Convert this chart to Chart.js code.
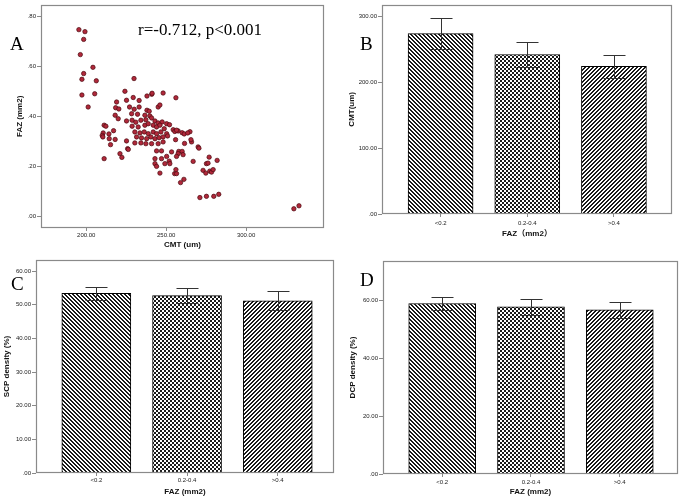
<!DOCTYPE html>
<html><head><meta charset="utf-8">
<script src="https://cdn.jsdelivr.net/npm/chart.js@4.4.1/dist/chart.umd.min.js"></script>
<style>
html,body{margin:0;padding:0;background:#fff;}
#wrap{position:relative;width:685px;height:501px;overflow:hidden;background:#fff;}
canvas{position:absolute;}
</style></head><body>
<div id="wrap">
<canvas id="cA" width="330" height="250" style="left:0;top:0"></canvas>
<canvas id="cB" width="345" height="250" style="left:340px;top:0"></canvas>
<canvas id="cC" width="340" height="251" style="left:0;top:250px"></canvas>
<canvas id="cD" width="345" height="251" style="left:340px;top:250px"></canvas>
</div>
<script>
// ---------- data ----------
const cmtValues = [
195.4,199.2,198.4,196.3,204.2,198.4,197.3,206.3,197.3,205.3,201.2,
229.9,224.2,219.0,225.2,229.4,233.1,238.0,241.0,241.2,248.1,256.1,
218.4,220.4,218.1,220.0,225.2,227.1,230.0,233.1,228.4,232.1,238.0,239.4,245.0,246.1,236.7,239.8,
211.2,212.3,210.6,210.0,210.4,214.2,214.4,217.1,218.1,215.2,225.2,225.9,221.1,222.3,211.2,
228.7,231.0,234.2,237.3,240.9,243.0,245.0,247.5,250.3,252.1,
228.7,232.5,236.7,238.8,241.9,244.0,246.1,248.8,
230.4,233.6,236.3,238.8,241.9,244.0,246.7,250.3,254.4,255.4,257.5,260.0,
231.5,234.6,237.8,240.4,243.0,245.6,248.1,250.9,
230.4,234.2,237.3,240.9,245.0,248.1,255.9,
226.3,244.0,247.1,253.4,257.9,260.0,
265.9,270.0,270.5,261.5,265.5,264.9,261.3,256.5,263.5,
257.5,256.5,260.6,243.0,247.1,250.3,243.0,244.0,249.2,251.9,252.3,246.1,255.3,256.5,256.1,261.1,259.0,
266.9,276.9,275.2,276.2,281.9,273.1,274.8,277.3,278.4,279.4,
271.1,275.2,279.8,282.9,329.9,333.1
];
const fazValues = [
0.747,0.739,0.708,0.647,0.596,0.571,0.548,0.542,0.485,0.490,0.437,
0.551,0.500,0.457,0.464,0.475,0.463,0.481,0.488,0.492,0.493,0.474,
0.434,0.429,0.404,0.390,0.381,0.437,0.428,0.437,0.410,0.408,0.424,0.420,0.437,0.445,0.404,0.401,
0.364,0.360,0.333,0.323,0.317,0.329,0.310,0.342,0.307,0.286,0.301,0.270,0.250,0.235,0.230,
0.384,0.376,0.384,0.386,0.393,0.381,0.373,0.377,0.370,0.366,
0.360,0.357,0.364,0.370,0.364,0.357,0.364,0.350,
0.337,0.333,0.337,0.330,0.337,0.330,0.337,0.330,0.346,0.339,0.341,0.334,
0.317,0.313,0.310,0.317,0.310,0.314,0.317,0.321,
0.293,0.293,0.290,0.290,0.290,0.297,0.306,
0.267,0.261,0.261,0.257,0.259,0.259,
0.297,0.277,0.272,0.291,0.306,0.338,0.329,0.344,0.333,
0.250,0.239,0.246,0.230,0.230,0.239,0.210,0.199,0.210,0.220,0.210,0.172,0.170,0.170,0.186,0.147,0.134,
0.219,0.236,0.210,0.212,0.223,0.183,0.172,0.180,0.176,0.186,
0.074,0.079,0.079,0.087,0.029,0.041
];
const scatterXTicks = [200, 250, 300];
const scatterYTicks = [0, 0.2, 0.4, 0.6, 0.8];

const fazGroups = ['<0.2', '0.2-0.4', '>0.4'];
const cmtMeans  = [274.0, 242.2, 224.2];
const cmtErrors = [23.5, 18.5, 17.8];
const scpMeans  = [53.4, 52.7, 51.2];
const scpErrors = [2.0, 2.3, 2.9];
const dcpMeans  = [59.0, 57.8, 56.8];
const dcpErrors = [2.3, 2.85, 2.7];
const cmtTicks = [0, 100, 200, 300];
const scpTicks = [0, 10, 20, 30, 40, 50, 60];
const dcpTicks = [0, 20, 40, 60];
const groupTicks = [0, 1, 2];

// ---------- helpers ----------
const SANS = '"Liberation Sans", Arial, "Noto Sans CJK SC", sans-serif';
const SERIF = '"Liberation Serif", "Times New Roman", serif';
function fmt(v){ const s = Number(v).toFixed(2); return s.startsWith('0.') ? s.slice(1) : s; }

function makePattern(kind){
  const c = document.createElement('canvas'); c.width = 4; c.height = 4;
  const g = c.getContext('2d');
  g.fillStyle = '#fff'; g.fillRect(0,0,4,4);
  g.fillStyle = '#1a1a1a';
  for (let i=0;i<4;i++){
    if (kind === 'back'){ g.fillRect(i,i,1,1); g.fillRect((i+1)%4,i,1,1); }
    else if (kind === 'fwd'){ g.fillRect(3-i,i,1,1); g.fillRect((4-i)%4,i,1,1); }
  }
  if (kind === 'check'){ g.fillRect(0,0,2,2); g.fillRect(2,2,2,2); }
  return g.createPattern(c,'repeat');
}

const framePlugin = {
  id:'frame',
  afterDraw(chart){
    const {ctx, chartArea:a} = chart;
    ctx.save(); ctx.strokeStyle = '#8a8a8a'; ctx.lineWidth = 1.2;
    ctx.strokeRect(Math.round(a.left)+0.5, Math.round(a.top)+0.5, Math.round(a.right-a.left)-1, Math.round(a.bottom-a.top)-1);
    ctx.restore();
  }
};
const errorPlugin = {
  id:'errbars',
  afterDatasetsDraw(chart, args, opts){
    if (!opts || !opts.means) return;
    const meta = chart.getDatasetMeta(0), ys = chart.scales.y, ctx = chart.ctx;
    ctx.save(); ctx.strokeStyle = '#333'; ctx.lineWidth = 1;
    meta.data.forEach((el,i)=>{
      const x = Math.round(el.x)+0.5;
      const yt = Math.round(ys.getPixelForValue(opts.means[i]+opts.errors[i]))+0.5;
      const yb = Math.round(ys.getPixelForValue(opts.means[i]-opts.errors[i]))+0.5;
      const w = opts.cap/2;
      ctx.beginPath();
      ctx.moveTo(x,yt); ctx.lineTo(x,yb);
      ctx.moveTo(x-w,yt); ctx.lineTo(x+w,yt);
      ctx.moveTo(x-w,yb); ctx.lineTo(x+w,yb);
      ctx.stroke();
    });
    ctx.restore();
  }
};
const textPlugin = {
  id:'panelText',
  afterDraw(chart, args, opts){
    if (!opts || !opts.items) return;
    const ctx = chart.ctx; ctx.save(); ctx.fillStyle = '#000'; ctx.textBaseline = 'alphabetic';
    opts.items.forEach(it=>{ ctx.font = it.font; ctx.fillText(it.text, it.x, it.y); });
    ctx.restore();
  }
};

function yAxis(min, max, ticks, title, width, titlePad){
  return {
    type:'linear', position:'left', min, max, offset:false,
    afterBuildTicks: s => { s.ticks = ticks.map(v=>({value:v})); },
    afterFit: s => { s.width = width; },
    ticks:{ font:{family:SANS,size:6}, color:'#222', padding:1, callback: v => fmt(v) },
    grid:{ drawOnChartArea:false, drawTicks:true, tickLength:4, color:'#8a8a8a', lineWidth:1 },
    border:{ display:false },
    title:{ display:true, text:title, font:{family:SANS,size:8,weight:'bold'}, color:'#111', padding:{top:titlePad,bottom:0} }
  };
}
function xAxis(min, max, ticks, labelFn, title, height, tickPad, titlePadBottom){
  return {
    type:'linear', position:'bottom', min, max, offset:false, bounds:'data',
    afterBuildTicks: s => { s.ticks = ticks.map(v=>({value:v})); },
    afterDataLimits: s => { s.min = min; s.max = max; },
    afterFit: s => { s.height = height; },
    ticks:{ font:{family:SANS,size:6}, color:'#222', padding:tickPad, maxRotation:0, callback: labelFn },
    grid:{ drawOnChartArea:false, drawTicks:true, tickLength:3, color:'#8a8a8a', lineWidth:1, offset:false },
    border:{ display:false },
    title:{ display:true, text:title, font:{family:SANS,size:8,weight:'bold'}, color:'#111', padding:{top:0,bottom:titlePadBottom} }
  };
}
const baseOpts = { responsive:false, animation:false, devicePixelRatio:1 };

// ---------- A : scatter ----------
new Chart(document.getElementById('cA'), {
  type:'scatter',
  data:{ datasets:[{ data: cmtValues.map((x,i)=>({x, y:fazValues[i]})),
    pointRadius:2.2, pointBackgroundColor:'#b0283a', pointBorderColor:'#4a0a10', pointBorderWidth:0.7 }]},
  options:{ ...baseOpts,
    layout:{ padding:{ top:4, right:6, left:0, bottom:0 } },
    scales:{
      x: xAxis(171.7, 348.75, scatterXTicks, v=>fmt(v), 'CMT (um)', 22, 1, 0),
      y: yAxis(-0.048, 0.847, scatterYTicks, 'FAZ (mm2)', 41, 15)
    },
    plugins:{ legend:{display:false}, tooltip:{enabled:false},
      panelText:{ items:[
        {text:'A', x:10, y:50, font:'19px '+SERIF},
        {text:'r=-0.712, p<0.001', x:138, y:35, font:'17px '+SERIF}
      ]}
    }
  },
  plugins:[framePlugin, textPlugin]
});

function barChart(id, means, errors, yMin, yMax, yTicks, yTitle, yWidth, yTitlePad,
                  xMin, xMax, xHeight, xTickPad, xTitle, xTitlePad, padTop, padRight, thick, letter){
  return new Chart(document.getElementById(id), {
    type:'bar',
    data:{ datasets:[{ data: means.map((m,i)=>({x:groupTicks[i], y:m})),
      backgroundColor:[makePattern('back'), makePattern('check'), makePattern('fwd')],
      borderColor:'#000', borderWidth:1, barThickness:thick }]},
    options:{ ...baseOpts,
      layout:{ padding:{ top:padTop, right:padRight, left:0, bottom:0 } },
      scales:{
        x: xAxis(xMin, xMax, groupTicks, v=>fazGroups[v], xTitle, xHeight, xTickPad, xTitlePad),
        y: yAxis(yMin, yMax, yTicks, yTitle, yWidth, yTitlePad)
      },
      plugins:{ legend:{display:false}, tooltip:{enabled:false},
        errbars:{ means, errors, cap:22 },
        panelText:{ items:[ letter ] }
      }
    },
    plugins:[errorPlugin, framePlugin, textPlugin]
  });
}

barChart('cB', cmtMeans, cmtErrors, 0, 318, cmtTicks, 'CMT(um)', 42, 7,
  -0.676, 2.67, 36, 2.5, 'FAZ（mm2）', 11, 4, 13, 65, {text:'B', x:20, y:50, font:'19px '+SERIF});
barChart('cC', scpMeans, scpErrors, 0, 63.3, scpTicks, 'SCP density (%)', 36, 2,
  -0.665, 2.62, 28, 0.5, 'FAZ (mm2)', 4.5, 10, 6, 69, {text:'C', x:11, y:40, font:'19px '+SERIF});
barChart('cD', dcpMeans, dcpErrors, 0, 73.7, dcpTicks, 'DCP density (%)', 43, 8,
  -0.667, 2.656, 27, 2, 'FAZ (mm2)', 4, 11, 7, 67, {text:'D', x:20, y:36, font:'19px '+SERIF});
</script>
</body></html>
